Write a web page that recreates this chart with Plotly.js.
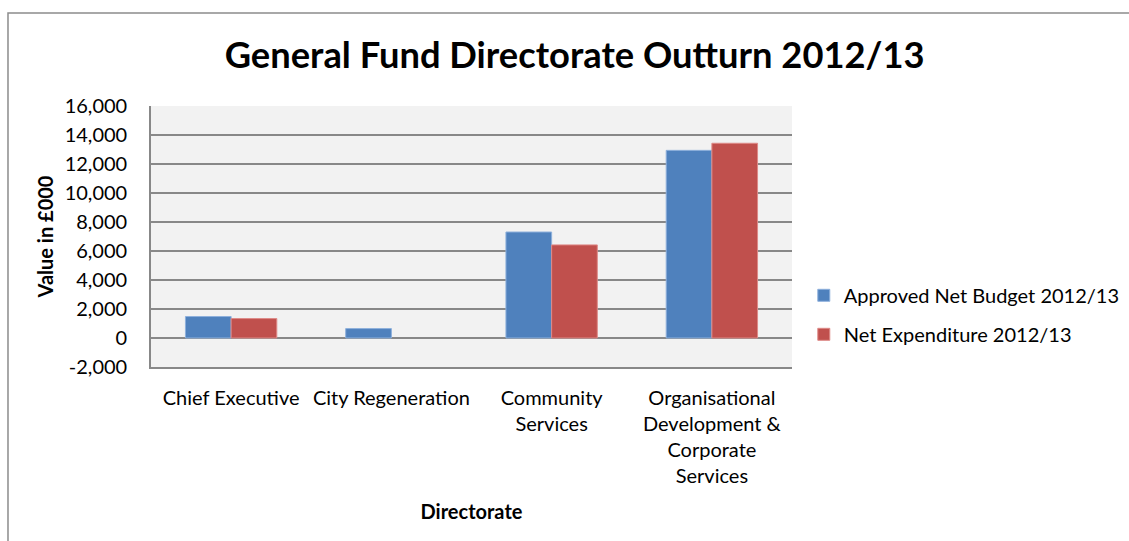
<!DOCTYPE html>
<html>
<head>
<meta charset="utf-8">
<script src="https://cdn.plot.ly/plotly-3.0.1.min.js"></script>
<style>
  html, body { margin: 0; padding: 0; background: #ffffff; }
  #chart { width: 1129px; height: 541px; }
</style>
</head>
<body>
<div id="chart"></div>
<script>
const categories = ["Chief Executive", "City Regeneration", "Community Services", "Organisational Development & Corporate Services"];
const categoryLabels = ["Chief Executive", "City Regeneration", "Community<br>Services", "Organisational<br>Development &<br>Corporate<br>Services"];
const approvedBudget = [1480, 650, 7310, 12940];
const netExpenditure = [1340, 0, 6420, 13430];
const yTickValues = [-2000, 0, 2000, 4000, 6000, 8000, 10000, 12000, 14000, 16000];
const yTickLabels = ["-2,000", "0", "2,000", "4,000", "6,000", "8,000", "10,000", "12,000", "14,000", "16,000"];

const FONT = "Lato, 'Open Sans', sans-serif";
const GRID = "#888888";

const traces = [
  {
    type: "bar",
    name: "Approved Net Budget 2012/13",
    x: categories,
    y: approvedBudget,
    legendgroup: "a",
    marker: { color: "#4f81bd", line: { color: "#8eb0dc", width: approvedBudget.map(v => v === 0 ? 0 : 1) } }
  },
  {
    type: "bar",
    name: "Net Expenditure 2012/13",
    x: categories,
    y: netExpenditure,
    legendgroup: "b",
    marker: { color: "#c0504d", line: { color: "#de8a88", width: netExpenditure.map(v => v === 0 ? 0 : 1) } }
  }
];

const layout = {
  width: 1129,
  height: 541,
  margin: { l: 151, r: 337, t: 106, b: 174, autoexpand: false },
  paper_bgcolor: "#ffffff",
  plot_bgcolor: "#f2f2f2",
  font: { family: FONT, size: 20, color: "#000000" },
  barmode: "group",
  bargap: 0.43,
  bargroupgap: 0,
  title: {
    text: "<b>General Fund Directorate Outturn 2012/13</b>",
    font: { family: FONT, size: 36.3, color: "#000000" },
    x: 0.509, xref: "container", xanchor: "center",
    y: 0.897, yref: "container", yanchor: "middle"
  },
  xaxis: {
    type: "category",
    tickvals: categories,
    ticktext: categoryLabels,
    showgrid: false,
    showline: true,
    linecolor: GRID,
    linewidth: 1.6,
    ticks: "",
    ticklabelstandoff: 12,
    tickfont: { family: FONT, size: 20 },
    automargin: false,
    title: { text: "<b>Directorate</b>", font: { family: FONT, size: 20 }, standoff: 19 }
  },
  yaxis: {
    range: [-2000, 16000],
    tickvals: yTickValues,
    ticktext: yTickLabels,
    showgrid: true,
    gridcolor: GRID,
    gridwidth: 1.6,
    zeroline: true,
    zerolinecolor: GRID,
    zerolinewidth: 1.6,
    showline: true,
    linecolor: GRID,
    linewidth: 1.6,
    ticks: "",
    ticklabelstandoff: 18,
    tickfont: { family: FONT, size: 20 },
    automargin: false,
    title: { text: "<b>Value in £000</b>", font: { family: FONT, size: 20 }, standoff: 6 }
  },
  legend: {
    x: 1.0184, xanchor: "left",
    y: 0.2, yanchor: "middle",
    traceorder: "grouped",
    tracegroupgap: 10,
    font: { family: FONT, size: 20 },
    bgcolor: "rgba(0,0,0,0)"
  },
  shapes: [
    {
      type: "rect", xref: "paper", yref: "paper",
      x0: -0.2231, x1: 2.0, y0: -1.0, y1: 1.3563,
      line: { color: "#8c8c8c", width: 1.5 },
      fillcolor: "rgba(0,0,0,0)",
      layer: "below"
    }
  ]
};

Plotly.newPlot("chart", traces, layout, { displayModeBar: false, responsive: false });
</script>
</body>
</html>
